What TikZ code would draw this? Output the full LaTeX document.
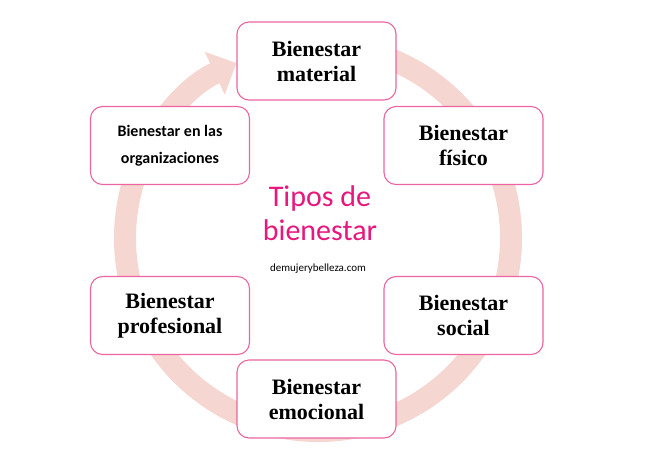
\documentclass[tikz,border=0pt]{standalone}
\usepackage{fontspec}
\setmainfont{Liberation Serif}
\newfontfamily\carl{Carlito}
\usetikzlibrary{arrows.meta}
\definecolor{ring}{RGB}{246,214,208}
\definecolor{bord}{RGB}{236,100,160}
\definecolor{tit}{RGB}{232,23,126}
\begin{document}
\begin{tikzpicture}[x=1pt,y=-1pt,
 box/.style={draw=bord,line width=1.1pt,fill=white,rounded corners=12pt,minimum width=159pt,minimum height=78pt,align=center,inner sep=2pt},
 serif/.style={font=\fontsize{22}{25}\selectfont\bfseries}]
\useasboundingbox (0,0) rectangle (650,450);
\coordinate (c) at (318,238);
\draw[ring,line width=22pt,-{Triangle[width=46pt,length=24pt]}] ([shift={(-80:193)}]c) arc[start angle=-80,end angle=245,radius=193];
\node[box,serif] (mat) at (316.5,61) {Bienestar\\material};
\node[box,serif] (fis) at (463.5,145.5) {Bienestar\\físico};
\node[box,font=\carl\fontsize{16}{27}\selectfont\bfseries] (org) at (170,145.5) {Bienestar en las\\organizaciones};
\node[box,serif] (pro) at (170,315.5) {Bienestar\\profesional};
\node[box,serif] (soc) at (463.5,315.5) {Bienestar\\social};
\node[box,serif] (emo) at (316.5,399) {Bienestar\\emocional};
\node[text=tit,font=\carl\fontsize{30}{34}\selectfont,align=center] (t) at (320,213) {Tipos de\\bienestar};
\node[font=\carl\fontsize{11}{13}\selectfont] (w) at (318,269) {demujerybelleza.com};
\end{tikzpicture}
\end{document}
